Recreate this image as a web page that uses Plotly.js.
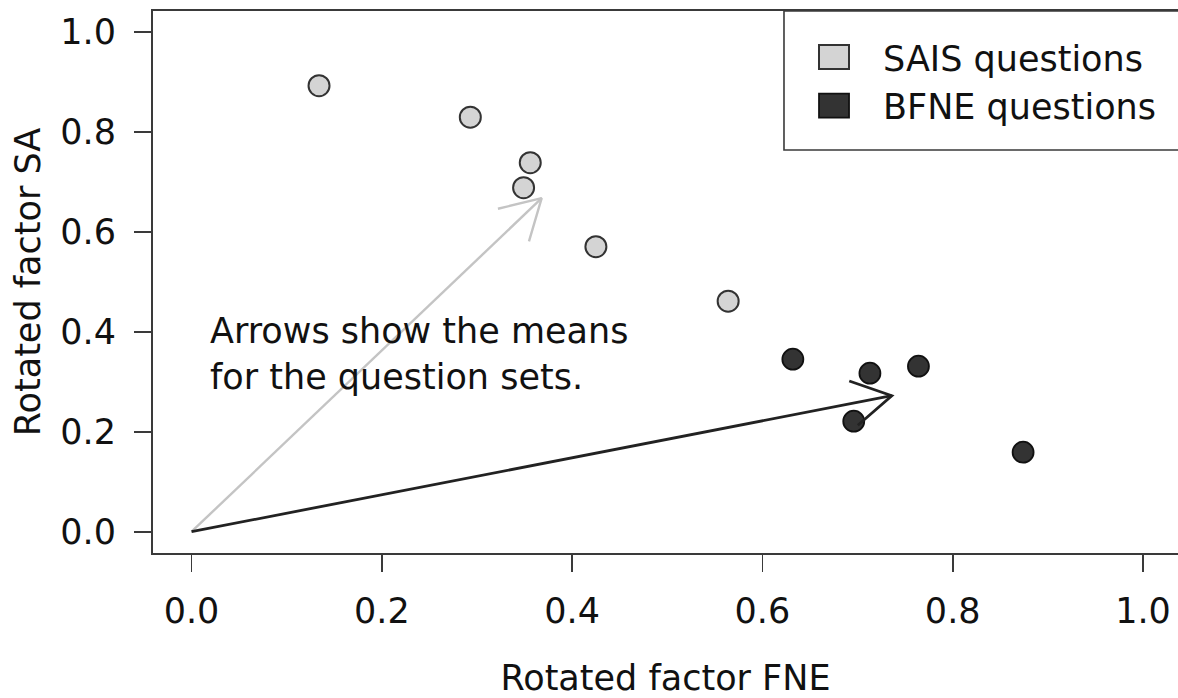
<!DOCTYPE html>
<html><head><meta charset="utf-8">
<script src="https://cdn.plot.ly/plotly-3.0.1.min.js"></script>
<style>html,body{margin:0;padding:0;background:#fff}#chart{width:1178px;height:698px}</style>
</head><body><div id="chart"></div>
<script>
// ---- data ----
const seriesNames = ['SAIS questions', 'BFNE questions'];
const saisFNE = [0.134, 0.293, 0.356, 0.349, 0.425, 0.564];
const saisSA  = [0.892, 0.829, 0.738, 0.688, 0.570, 0.461];
const bfneFNE = [0.632, 0.713, 0.764, 0.696, 0.874];
const bfneSA  = [0.345, 0.317, 0.331, 0.221, 0.159];
const meanFNE = [0.368, 0.736];   // arrow tips (SAIS, BFNE)
const meanSA  = [0.667, 0.272];
const tickVals = [0, 0.2, 0.4, 0.6, 0.8, 1.0];
const tickText = ['0.0', '0.2', '0.4', '0.6', '0.8', '1.0'];
const noteText = 'Arrows show the means<br>for the question sets.';

// ---- layout geometry ----
const W = 1178, H = 698;
const M = {l: 153, r: 0, t: 11, b: 145, pad: 0};
const xRange = [-0.0405, 1.0368];
const yRange = [-0.0426, 1.0414];
const FONT = 'DejaVu Sans';
const pxX = (W - M.l - M.r) / (xRange[1] - xRange[0]);
const pxY = (H - M.t - M.b) / (yRange[1] - yRange[0]);

function arrowXY(tx, ty) {
  const ang = Math.atan2(ty * pxY, tx * pxX);
  const L = 45, spread = Math.PI / 6;
  const a1 = ang + Math.PI + spread, a2 = ang + Math.PI - spread;
  return {
    x: [0, tx, null, tx + L * Math.cos(a1) / pxX, tx, tx + L * Math.cos(a2) / pxX],
    y: [0, ty, null, ty + L * Math.sin(a1) / pxY, ty, ty + L * Math.sin(a2) / pxY]
  };
}

const fills = ['#d4d4d4', '#333333'];
const arrowColors = ['#c4c4c4', '#222222'];

const traces = [
  {type: 'scatter', mode: 'markers', name: seriesNames[0], x: saisFNE, y: saisSA,
   marker: {symbol: 'circle', size: 21, color: fills[0], line: {color: '#333333', width: 2}}},
  {type: 'scatter', mode: 'markers', name: seriesNames[1], x: bfneFNE, y: bfneSA,
   marker: {symbol: 'circle', size: 21, color: fills[1], line: {color: '#111111', width: 1.8}}}
];
for (let i = 0; i < meanFNE.length; i++) {
  const a = arrowXY(meanFNE[i], meanSA[i]);
  traces.push({type: 'scatter', mode: 'lines', x: a.x, y: a.y, showlegend: false,
    hoverinfo: 'skip', line: {color: arrowColors[i], width: i === 0 ? 2.4 : 2.8}});
}

const axisCommon = {
  showgrid: false, zeroline: false, showline: true, linecolor: '#3a3a3a', linewidth: 2,
  ticks: 'outside', ticklen: 17, tickwidth: 1.6, tickcolor: '#3a3a3a',
  tickvals: tickVals, ticktext: tickText,
  tickfont: {family: FONT, size: 35, color: '#111'}
};

const layout = {
  width: W, height: H, margin: M,
  paper_bgcolor: '#fff', plot_bgcolor: '#fff',
  font: {family: FONT, size: 35, color: '#111'},
  xaxis: Object.assign({}, axisCommon, {
    range: xRange, mirror: true, ticklabelstandoff: 9,
    title: {text: 'Rotated factor FNE', font: {family: FONT, size: 35, color: '#111'}, standoff: 36}
  }),
  yaxis: Object.assign({}, axisCommon, {
    range: yRange, mirror: false, ticklabelstandoff: 11,
    title: {text: 'Rotated factor SA', font: {family: FONT, size: 35, color: '#111'}, standoff: 9}
  }),
  showlegend: true,
  legend: {
    x: 0.6166, xanchor: 'left', y: 0.969, yanchor: 'top',
    bgcolor: 'rgba(0,0,0,0)', borderwidth: 0, itemwidth: 88,
    font: {family: FONT, size: 35, color: '#111'}
  },
  shapes: [{type: 'rect', xref: 'paper', yref: 'paper', x0: 0.6156, x1: 1.05, y0: 0.7435, y1: 1,
            line: {color: '#3a3a3a', width: 1.6}, fillcolor: 'rgba(0,0,0,0)', layer: 'above'}],
  annotations: [{
    xref: 'x', yref: 'y', x: 0.0177, y: 0.356, xanchor: 'left', yanchor: 'middle', align: 'left',
    showarrow: false, text: noteText, font: {family: FONT, size: 35, color: '#111'}
  }]
};

Plotly.newPlot('chart', traces, layout, {displayModeBar: false, staticPlot: true}).then(function (gd) {
  gd.querySelectorAll('.legend .legendpoints path.scatterpts').forEach(function (p) {
    p.setAttribute('d', 'M-15,-12H15V12H-15Z');
  });
});
</script>
</body></html>
